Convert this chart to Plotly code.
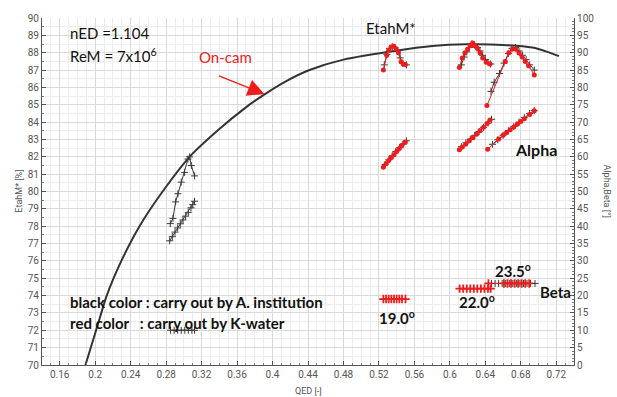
import plotly.graph_objects as go

# ---------------- data ----------------
# On-cam envelope (EtahM*)
env_qed = [0.189, 0.201, 0.213, 0.2295, 0.250, 0.276, 0.3065, 0.340, 0.370, 0.391, 0.415, 0.4417, 0.480, 0.543, 0.580, 0.618, 0.660, 0.693, 0.710, 0.723]
env_eta = [70.0, 72.0, 74.0, 76.0, 78.0, 80.0, 82.0, 83.6, 84.85, 85.6, 86.35, 87.0, 87.6, 88.14, 88.38, 88.48, 88.45, 88.3, 88.05, 87.8]

# Black (A. institution) efficiency hills
eta_b1_qed = [0.2847, 0.2877, 0.2907, 0.2933, 0.297, 0.3008, 0.3046, 0.3065, 0.3084, 0.3121]
eta_b1 = [78.15, 78.45, 79.4, 79.87, 80.54, 81.1, 81.87, 82.0, 81.5, 80.9]
eta_b2_qed = [0.526, 0.529, 0.532, 0.535, 0.538, 0.541, 0.544, 0.547, 0.551]
eta_b2 = [87.3, 87.9, 88.25, 88.35, 88.3, 88.1, 87.7, 87.4, 87.3]
eta_b3_qed = [0.613, 0.616, 0.619, 0.622, 0.625, 0.628, 0.631, 0.634, 0.637, 0.640, 0.643, 0.646]
eta_b3 = [87.3, 87.75, 88.05, 88.3, 88.5, 88.45, 88.3, 88.1, 87.85, 87.6, 87.45, 87.35]
eta_b4_qed = [0.6464, 0.650, 0.656, 0.661, 0.666, 0.670, 0.674, 0.678, 0.682, 0.686, 0.690, 0.6952]
eta_b4 = [85.77, 86.3, 86.8, 87.4, 87.95, 88.25, 88.3, 88.1, 87.85, 87.6, 87.3, 87.0]

# Red (K-water) efficiency hills
eta_r2_qed = [0.525, 0.5288, 0.531, 0.5337, 0.5367, 0.5394, 0.542, 0.545, 0.5476, 0.5498]
eta_r2 = [87.0, 87.85, 88.14, 88.33, 88.37, 88.23, 87.99, 87.48, 87.34, 87.32]
eta_r3_qed = [0.6107, 0.614, 0.617, 0.620, 0.623, 0.6257, 0.628, 0.631, 0.634, 0.637, 0.641, 0.6453]
eta_r3 = [87.15, 87.7, 88.0, 88.2, 88.4, 88.56, 88.4, 88.25, 88.0, 87.7, 87.45, 87.35]
eta_r4_qed = [0.6418, 0.6625, 0.6665, 0.6705, 0.6745, 0.678, 0.6815, 0.685, 0.6888, 0.6952]
eta_r4 = [84.95, 87.5, 88.0, 88.22, 88.2, 87.98, 87.75, 87.5, 87.25, 86.71]

# Alpha (guide vane opening) [deg]
alpha_b1_qed = [0.284, 0.287, 0.290, 0.293, 0.296, 0.299, 0.302, 0.305, 0.308, 0.310, 0.312]
alpha_b1 = [35.8, 37.0, 38.3, 39.5, 40.7, 41.8, 42.9, 44.0, 45.3, 46.2, 47.2]
alpha_b2_qed = [0.527, 0.531, 0.535, 0.539, 0.543, 0.547, 0.551]
alpha_b2 = [57.8, 59.1, 60.3, 61.5, 62.6, 63.6, 64.6]
alpha_r2_qed = [0.525, 0.528, 0.531, 0.534, 0.537, 0.540, 0.543, 0.546, 0.5498]
alpha_r2 = [57.0, 58.0, 58.9, 59.8, 60.6, 61.5, 62.4, 63.3, 64.3]
alpha_b3_qed = [0.613, 0.618, 0.623, 0.628, 0.633, 0.638, 0.643, 0.647]
alpha_b3 = [62.9, 64.0, 65.1, 66.2, 67.3, 68.5, 69.7, 70.8]
alpha_r3_qed = [0.6107, 0.614, 0.618, 0.622, 0.626, 0.630, 0.634, 0.638, 0.642, 0.6453]
alpha_r3 = [62.0, 62.8, 63.7, 64.6, 65.5, 66.5, 67.5, 68.5, 69.6, 70.6]
alpha_b4_qed = [0.648, 0.654, 0.660, 0.666, 0.672, 0.678, 0.684, 0.690, 0.6952]
alpha_b4 = [63.6, 64.9, 66.2, 67.5, 68.7, 70.0, 71.3, 72.5, 73.3]
alpha_r4_qed = [0.6426, 0.655, 0.660, 0.664, 0.668, 0.672, 0.676, 0.680, 0.684, 0.690, 0.6952]
alpha_r4 = [62.2, 65.1, 66.2, 67.0, 67.8, 68.6, 69.4, 70.2, 71.0, 72.2, 73.3]
alpha_g4_qed = [0.6426, 0.650, 0.657]
alpha_g4 = [62.2, 64.0, 65.6]

# Beta (runner blade angle) [deg]
beta_b1_qed = [0.285, 0.289, 0.293, 0.297, 0.301, 0.305, 0.309, 0.312]
beta_b1 = [10, 10, 10, 10, 10, 10, 10, 10]
beta_r2_qed = [0.525, 0.528, 0.531, 0.534, 0.537, 0.540, 0.543, 0.546, 0.550]
beta_r2 = [19, 19, 19, 19, 19, 19, 19, 19, 19]
beta_r3_qed = [0.611, 0.615, 0.619, 0.623, 0.627, 0.631, 0.635, 0.639, 0.643, 0.646]
beta_r3 = [22, 22, 22, 22, 22, 22, 22, 22, 22, 22]
beta_b4_qed = [0.647, 0.651, 0.655, 0.659, 0.663, 0.667, 0.671, 0.675, 0.679, 0.683, 0.687, 0.691, 0.696]
beta_b4 = [23.5] * 13
beta_r4_qed = [0.6435, 0.661, 0.665, 0.669, 0.673, 0.677, 0.681, 0.685, 0.6895]
beta_r4 = [23.5, 23.5, 23.5, 23.5, 23.5, 23.5, 23.5, 23.5, 23.5]

x_tickvals = [0.16, 0.20, 0.24, 0.28, 0.32, 0.36, 0.40, 0.44, 0.48, 0.52, 0.56, 0.60, 0.64, 0.68, 0.72]
x_ticktext = ["0.16", "0.2", "0.24", "0.28", "0.32", "0.36", "0.4", "0.44", "0.48", "0.52", "0.56", "0.6", "0.64", "0.68", "0.72"]

# ---------------- figure ----------------
BLACK = "#3a3a3a"
RED = "#ee1c1c"
fig = go.Figure()

fig.add_trace(go.Scatter(x=env_qed, y=env_eta, mode="lines", line=dict(color="#333333", width=2, shape="spline", smoothing=0.6),
                         hoverinfo="skip", showlegend=False))

def black(xs, ys, yaxis="y"):
    fig.add_trace(go.Scatter(x=xs, y=ys, mode="lines+markers", yaxis=yaxis, showlegend=False,
                             line=dict(color=BLACK, width=1),
                             marker=dict(symbol="cross-thin", size=5, line=dict(color=BLACK, width=1))))

def red(xs, ys, yaxis="y", cross=False):
    if cross:
        mk = dict(symbol="cross-thin", size=6, line=dict(color=RED, width=1.8))
    else:
        mk = dict(symbol="circle", size=5, color=RED)
    fig.add_trace(go.Scatter(x=xs, y=ys, mode="lines+markers", yaxis=yaxis, showlegend=False,
                             line=dict(color=RED, width=1), marker=mk))

for xs, ys in [(eta_b1_qed, eta_b1), (eta_b2_qed, eta_b2), (eta_b3_qed, eta_b3), (eta_b4_qed, eta_b4)]:
    black(xs, ys)
for xs, ys in [(eta_r2_qed, eta_r2), (eta_r3_qed, eta_r3), (eta_r4_qed, eta_r4)]:
    red(xs, ys)

for xs, ys in [(alpha_b1_qed, alpha_b1), (alpha_b2_qed, alpha_b2), (alpha_b3_qed, alpha_b3), (alpha_b4_qed, alpha_b4)]:
    black(xs, ys, "y2")
fig.add_trace(go.Scatter(x=alpha_g4_qed, y=alpha_g4, mode="lines", yaxis="y2", showlegend=False,
                         line=dict(color="#4caf50", width=1.2, dash="dot")))
for xs, ys in [(alpha_r2_qed, alpha_r2), (alpha_r3_qed, alpha_r3), (alpha_r4_qed, alpha_r4)]:
    red(xs, ys, "y2")

black(beta_b1_qed, beta_b1, "y2")
black(beta_b4_qed, beta_b4, "y2")
for xs, ys in [(beta_r2_qed, beta_r2), (beta_r3_qed, beta_r3), (beta_r4_qed, beta_r4)]:
    red(xs, ys, "y2", cross=True)

def label(x, y, text, size=15, bold=False, color="#111111", xanchor="left"):
    t = f"<b>{text}</b>" if bold else text
    fig.add_annotation(x=x, y=y, text=t, showarrow=False, xanchor=xanchor, yanchor="middle",
                       font=dict(family="Lato, Open Sans, sans-serif", size=size, color=color))

label(0.1693, 89.12, "nED =1.104", 15)
label(0.1693, 87.85, "ReM = 7x10<sup>6</sup>", 15)
label(0.3464, 87.75, "On-cam", 15, color=RED, xanchor="center")
label(0.5031, 89.4, "EtahM*", 15)
label(0.6712, 82.42, "Alpha", 16, bold=True)
label(0.1693, 73.66, "black color : carry out by A. institution", 15, bold=True)
label(0.1693, 72.43, "red color &nbsp;&nbsp;: carry out by K-water", 15, bold=True)
label(0.5178, 72.73, "19.0<sup>o</sup>", 15, bold=True)
label(0.6080, 73.65, "22.0<sup>o</sup>", 15, bold=True)
label(0.6486, 75.47, "23.5<sup>o</sup>", 15, bold=True)
label(0.6994, 74.22, "Beta", 15, bold=True)

fig.add_annotation(x=0.391, y=85.61, ax=-47, ay=-19, text="", showarrow=True,
                   arrowhead=2, arrowsize=2.6, arrowwidth=1.3, arrowcolor=RED, standoff=0)

# axis titles
fig.add_annotation(xref="paper", yref="paper", x=-0.058, y=0.5, text="EtahM* [%]", textangle=-90,
                   showarrow=False, font=dict(family="Roboto, sans-serif", size=9, color="#555555"))
fig.add_annotation(xref="paper", yref="paper", x=1.077, y=0.5, text="Alpha,Beta [°]", textangle=90,
                   showarrow=False, font=dict(family="Roboto, sans-serif", size=9, color="#555555"))
fig.add_annotation(xref="paper", yref="paper", x=0.5, y=-0.055, yanchor="top", text="QED [-]",
                   showarrow=False, font=dict(family="Roboto, sans-serif", size=9, color="#555555"))

tickfont = dict(family="Roboto, sans-serif", size=10, color="#555555")
fig.update_layout(
    width=617, height=397, margin=dict(l=42, r=43, t=14, b=32),
    paper_bgcolor="white", plot_bgcolor="white",
    xaxis=dict(range=[0.14, 0.74], tickmode="array", tickvals=x_tickvals, ticktext=x_ticktext,
               showline=True, linecolor="#555555", linewidth=1.2, ticks="inside", ticklen=4, tickcolor="#555555",
               tickfont=tickfont, showgrid=True, gridcolor="#d9d9d9", gridwidth=1, zeroline=False,
               minor=dict(tickmode="linear", tick0=0.0, dtick=0.01, ticks="inside", ticklen=2, tickcolor="#777777",
                          showgrid=True, gridcolor="#ececec")),
    yaxis=dict(range=[70, 90], dtick=1, tick0=70, showline=True, linecolor="#555555", linewidth=1.2,
               ticks="inside", ticklen=4, tickcolor="#555555", tickfont=tickfont,
               showgrid=True, gridcolor="#d9d9d9", zeroline=False,
               minor=dict(dtick=0.5, ticks="inside", ticklen=2, tickcolor="#777777", showgrid=True, gridcolor="#ececec")),
    yaxis2=dict(range=[0, 100], dtick=5, tick0=0, overlaying="y", side="right", showline=True, linecolor="#555555",
                linewidth=1.2, ticks="inside", ticklen=4, tickcolor="#555555", tickfont=tickfont,
                showgrid=False, zeroline=False,
                minor=dict(dtick=1, ticks="inside", ticklen=2, tickcolor="#777777", showgrid=False)),
)

fig.write_html("out.html")
